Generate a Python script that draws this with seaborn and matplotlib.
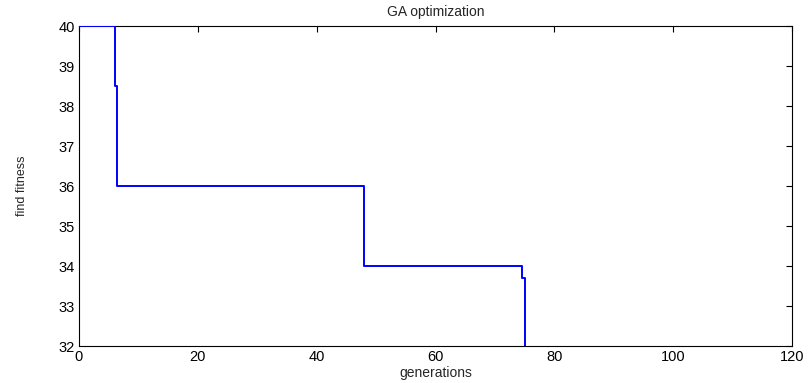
import matplotlib
matplotlib.use("Agg")
import matplotlib.pyplot as plt
import seaborn as sns
import pandas as pd

generations = [0, 6, 6.4, 48, 74.6, 75]
fitness = [40, 38.5, 36, 34, 33.7, 31]
xticks = [0, 20, 40, 60, 80, 100, 120]
yticks = [32, 33, 34, 35, 36, 37, 38, 39, 40]

sns.set_style("white")
plt.rcParams['font.family'] = ['Liberation Sans', 'DejaVu Sans']

df = pd.DataFrame({"generations": generations, "fitness": fitness})

fig = plt.figure(figsize=(8.11, 3.83), dpi=100)
ax = fig.add_axes([0.0974, 0.0966, 0.8792, 0.8354])
sns.lineplot(data=df, x="generations", y="fitness", ax=ax, color="#0000ff",
             drawstyle="steps-post", estimator=None, sort=False, linewidth=1.4,
             zorder=3)
ax.set_xlim(0, 120)
ax.set_ylim(32, 40)
ax.set_xticks(xticks)
ax.set_yticks(yticks)
ax.tick_params(direction="in", length=4, width=0.8, labelsize=10.5, top=True, right=True,
               labeltop=False, labelright=False, colors="black", pad=3)
for s in ax.spines.values():
    s.set_visible(True)
    s.set_color("black")
    s.set_linewidth(0.8)
ax.set_title("GA optimization", fontsize=10, pad=7)
ax.set_xlabel("generations", fontsize=10, labelpad=1)
ax.set_ylabel("find fitness", fontsize=9, labelpad=22)
fig.savefig("out.png", dpi=100)
